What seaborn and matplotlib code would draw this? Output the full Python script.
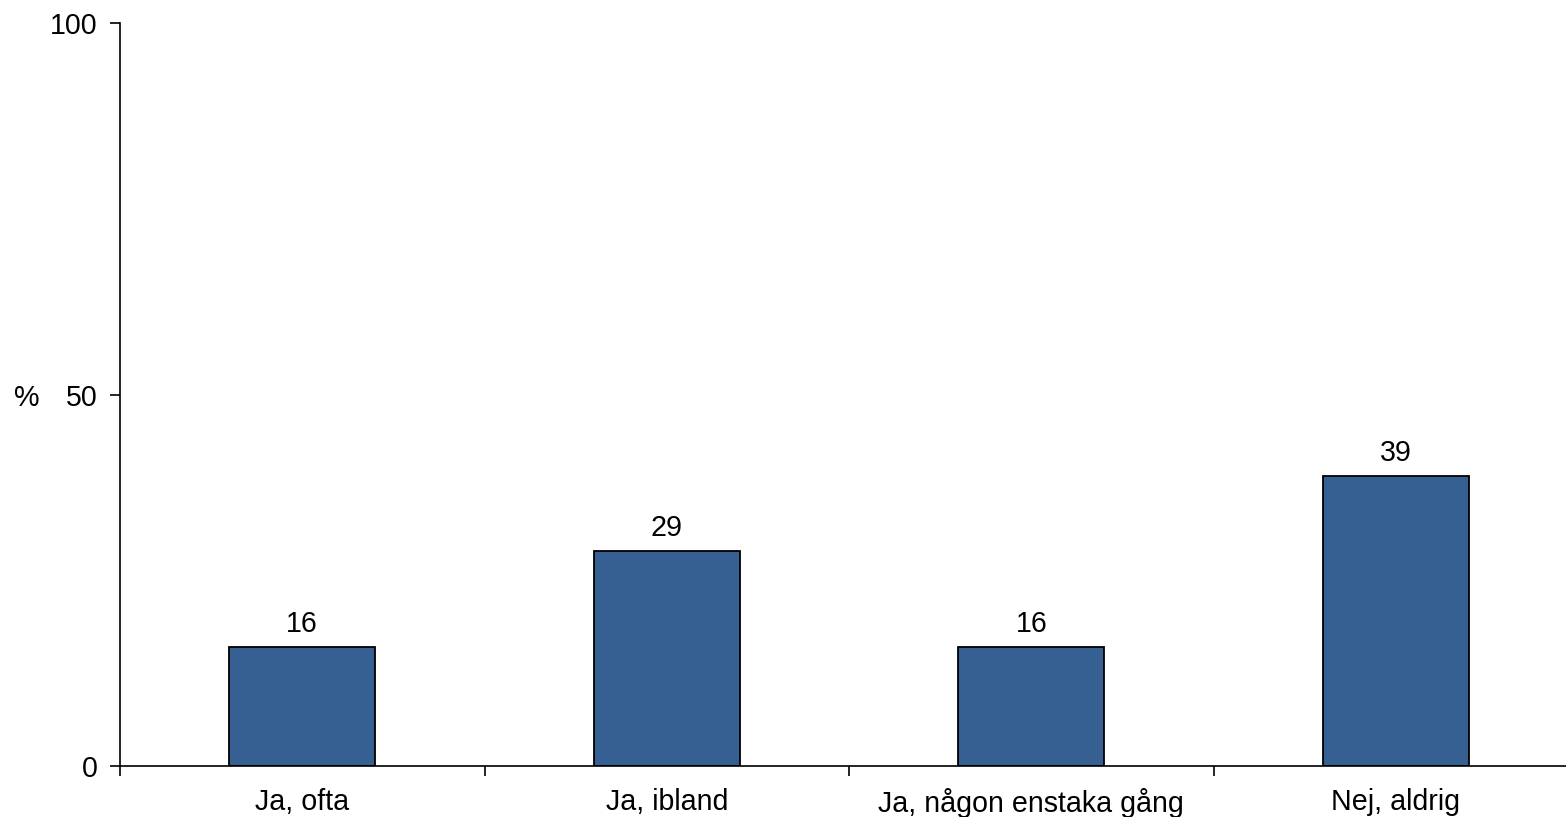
import matplotlib
matplotlib.use("Agg")
import matplotlib.pyplot as plt
import seaborn as sns
import pandas as pd
import numpy as np

categories = ["Ja, ofta", "Ja, ibland", "Ja, någon enstaka gång", "Nej, aldrig"]
values = [16, 29, 16, 39]
y_ticks = [0, 50, 100]

sns.set_theme(style="white")
plt.rcParams['font.family'] = ['Liberation Sans', 'DejaVu Sans']
plt.rcParams['text.color'] = 'black'
plt.rcParams['xtick.color'] = 'black'
plt.rcParams['ytick.color'] = 'black'
plt.rcParams['axes.labelcolor'] = 'black'

fs = 20.6

fig = plt.figure(figsize=(15.66, 8.17), dpi=100)
ax = fig.add_axes([120/1566, 51/817, 1458/1566, 743/817])

df = pd.DataFrame({"cat": categories, "val": values})
sns.barplot(data=df, x="cat", y="val", color="#376092", saturation=1,
            edgecolor="black", linewidth=1.3, width=0.4, ax=ax)

for i, v in enumerate(values):
    ax.text(i, v + 1.2, str(v), ha="center", va="bottom", fontsize=fs, color="black")

ax.set_xlim(-0.5, len(categories) - 0.5)
ax.set_ylim(0, 100)
ax.set_yticks(y_ticks)
ax.set_yticklabels([str(t) for t in y_ticks], fontsize=fs)
ax.tick_params(axis="y", left=True, direction="out", length=7, width=1.2,
               color="black", labelcolor="black", pad=9)
ax.set_xticks(range(len(categories)))
ax.set_xticklabels(categories, fontsize=fs)
ax.tick_params(axis="x", which="major", bottom=True, length=0, pad=16, labelcolor="black")
ax.set_xticks(np.arange(-0.5, len(categories), 1.0), minor=True)
ax.tick_params(axis="x", which="minor", bottom=True, direction="out", length=7,
               width=1.2, color="black")

ax.set_xlabel("")
ax.set_ylabel("%", rotation=0, fontsize=fs, labelpad=0, va="center", color="black")
ax.yaxis.set_label_coords(-0.064, 0.495)

for s in ["top", "right"]:
    ax.spines[s].set_visible(False)
for s in ["left", "bottom"]:
    ax.spines[s].set_color("black")
    ax.spines[s].set_linewidth(1.2)

fig.savefig("out.png", dpi=100)
